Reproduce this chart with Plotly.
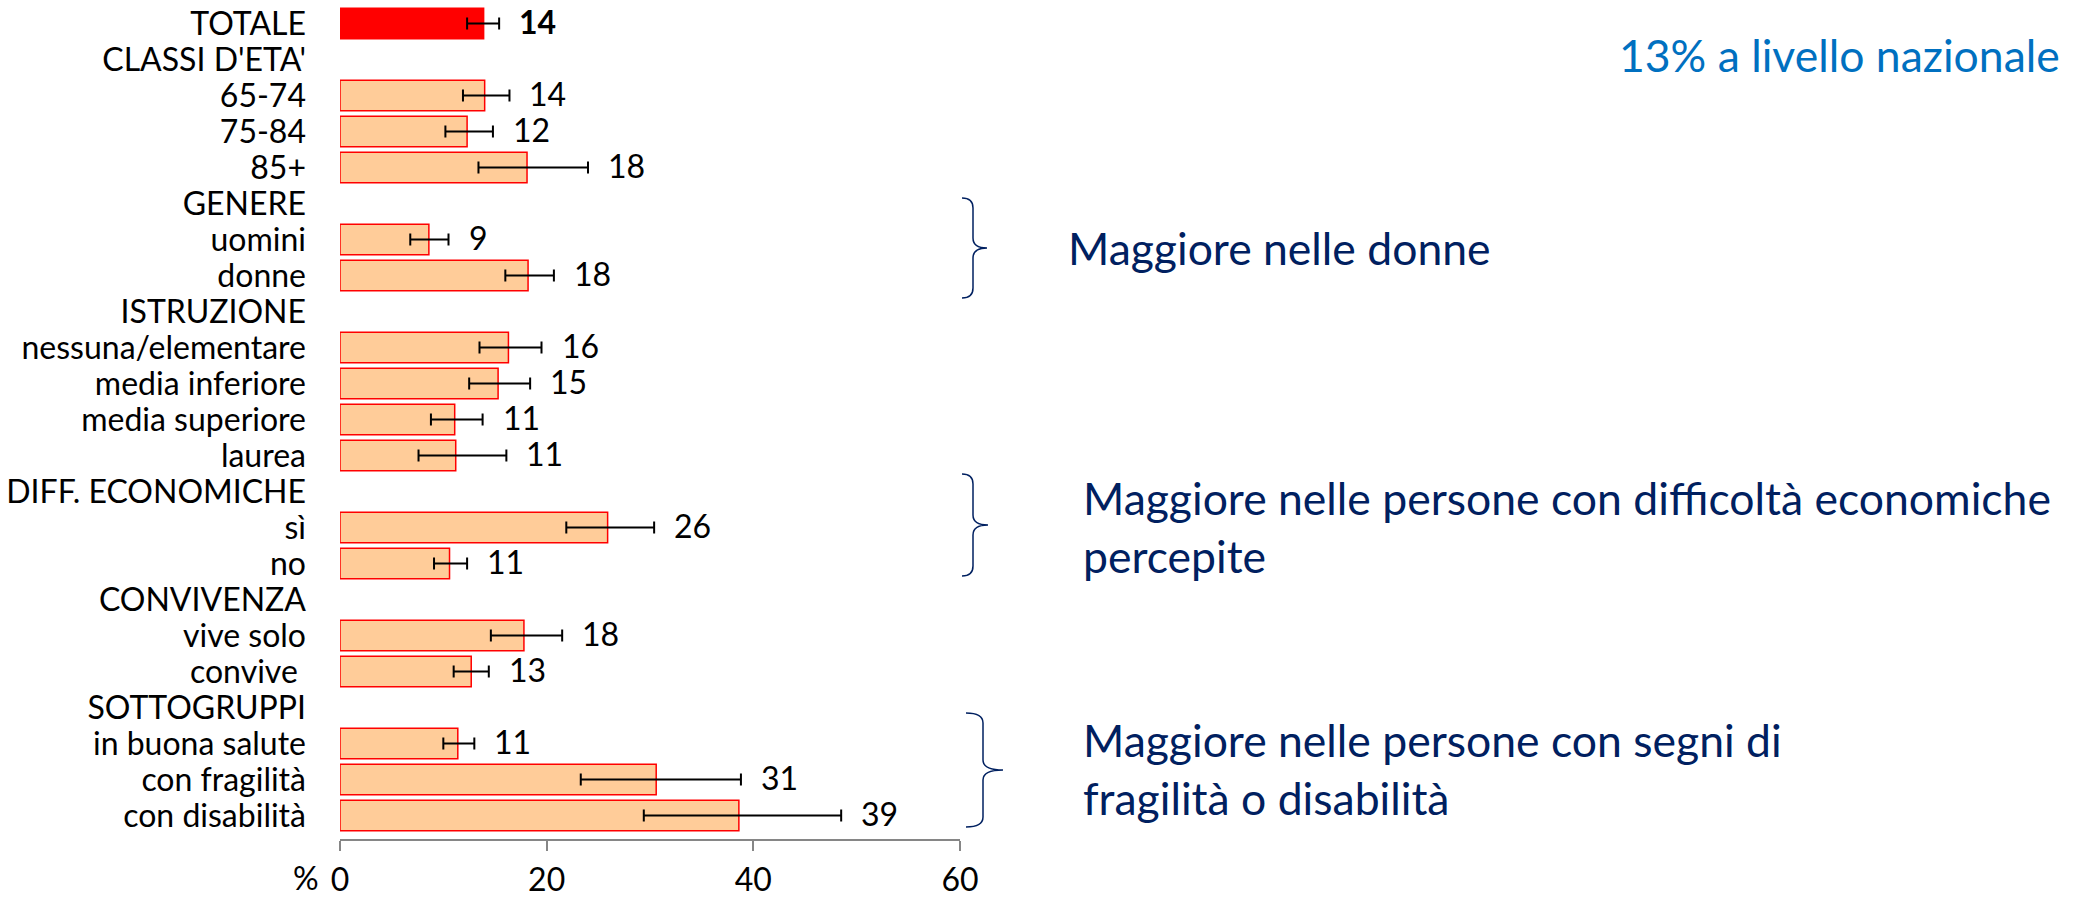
import plotly.graph_objects as go

categories = ["TOTALE", "CLASSI D'ETA'", "65-74", "75-84", "85+", "GENERE", "uomini", "donne",
              "ISTRUZIONE", "nessuna/elementare", "media inferiore", "media superiore", "laurea",
              "DIFF. ECONOMICHE", "sì", "no", "CONVIVENZA", "vive solo", "convive\u00a0",
              "SOTTOGRUPPI", "in buona salute", "con fragilità", "con disabilità"]
values = [13.9, None, 14.0, 12.3, 18.1, None, 8.6, 18.2, None, 16.3, 15.3, 11.1, 11.2,
          None, 25.9, 10.6, None, 17.8, 12.7, None, 11.4, 30.6, 38.6]
ci_low = [12.3, None, 11.9, 10.2, 13.4, None, 6.8, 16.0, None, 13.5, 12.5, 8.8, 7.6,
          None, 21.9, 9.1, None, 14.6, 11.0, None, 10.0, 23.3, 29.4]
ci_high = [15.4, None, 16.4, 14.8, 24.0, None, 10.5, 20.7, None, 19.5, 18.4, 13.8, 16.1,
           None, 30.4, 12.3, None, 21.5, 14.4, None, 13.0, 38.8, 48.5]
labels = ["14", "", "14", "12", "18", "", "9", "18", "", "16", "15", "11", "11",
          "", "26", "11", "", "18", "13", "", "11", "31", "39"]
x_ticks = [0, 20, 40, 60]

notes = [
    ["13% a livello nazionale"],
    ["Maggiore nelle donne"],
    ["Maggiore nelle persone con difficoltà economiche", "percepite"],
    ["Maggiore nelle persone con segni di", "fragilità o disabilità"],
]

FONT = "Lato"
LBL = 32
NOTE = 44.5
W, H = 2082, 897
L, R, T, B = 340, 960, 4, 839


def px_x(px):
    return (px - L) / (R - L)


def px_y(py):
    return (B - py) / (B - T)


fill = ["#FF0000" if i == 0 else "#FFCC99" for i in range(len(categories))]
err_plus = [(h - v) if v is not None else None for v, h in zip(values, ci_high)]
err_minus = [(v - l) if v is not None else None for v, l in zip(values, ci_low)]

fig = go.Figure()
fig.add_trace(go.Bar(
    x=values, y=categories, orientation="h",
    marker=dict(color=fill, line=dict(color="#FF0000", width=1.5)),
    error_x=dict(type="data", symmetric=False, array=err_plus, arrayminus=err_minus,
                 color="#000000", thickness=2, width=6),
    hoverinfo="skip", showlegend=False,
))

annotations = []
for i, (c, h, lab) in enumerate(zip(categories, ci_high, labels)):
    if lab:
        annotations.append(dict(
            x=h, y=c, xref="x", yref="y", text=f"<b>{lab}</b>" if i == 0 else lab,
            showarrow=False, xanchor="left", yanchor="middle", xshift=18, yshift=2,
            font=dict(family=FONT, size=LBL, color="#000000")))

annotations.append(dict(x=px_x(306), y=px_y(877), xref="paper", yref="paper", text="%",
                        showarrow=False, xanchor="center", yanchor="middle",
                        font=dict(family=FONT, size=LBL, color="#000000")))

# right-side notes
note_pos = [
    [(1617, 57)],
    [(1066, 249)],
    [(1081, 499), (1081, 557)],
    [(1081, 741), (1081, 799)],
]
note_colors = ["#0070C0", "#002060", "#002060", "#002060"]
for lines, poss, col in zip(notes, note_pos, note_colors):
    for txt, (px, py) in zip(lines, poss):
        annotations.append(dict(x=px_x(px), y=px_y(py - 2), xref="paper", yref="paper", text=txt,
                                showarrow=False, xanchor="left", yanchor="middle",
                                font=dict(family=FONT, size=NOTE, color=col)))

shapes = []


def brace(x0, xs, xp, yt, ym, yb, r=10):
    pts = [
        f"M {px_x(x0)},{px_y(yt)}",
        f"Q {px_x(xs)},{px_y(yt)} {px_x(xs)},{px_y(yt + r)}",
        f"L {px_x(xs)},{px_y(ym - r)}",
        f"Q {px_x(xs)},{px_y(ym)} {px_x(xp)},{px_y(ym)}",
        f"Q {px_x(xs)},{px_y(ym)} {px_x(xs)},{px_y(ym + r)}",
        f"L {px_x(xs)},{px_y(yb - r)}",
        f"Q {px_x(xs)},{px_y(yb)} {px_x(x0)},{px_y(yb)}",
    ]
    return dict(type="path", xref="paper", yref="paper", path=" ".join(pts),
                line=dict(color="#002060", width=1.5))


shapes.append(brace(962, 973, 987, 198, 248, 298))
shapes.append(brace(962, 973, 988, 474, 525, 576))
shapes.append(brace(966, 983, 1003, 713, 770, 827))

fig.update_layout(
    template="none",
    width=W, height=H,
    margin=dict(l=L, r=W - R, t=T, b=H - B, pad=0, autoexpand=False),
    paper_bgcolor="white", plot_bgcolor="white",
    bargap=0.15,
    font=dict(family=FONT, size=LBL, color="#000000"),
    xaxis=dict(range=[0, 60], tickmode="array", tickvals=x_ticks, ticktext=[str(v) for v in x_ticks],
               automargin=False,
               showgrid=False, zeroline=False, showline=True, linecolor="#868686", linewidth=1.5,
               ticks="outside", ticklen=10, tickcolor="#868686", tickwidth=1.5,
               ticklabelstandoff=2, tickfont=dict(family=FONT, size=LBL, color="#000000")),
    yaxis=dict(categoryorder="array", categoryarray=categories, autorange="reversed",
               tickmode="array", tickvals=categories, ticktext=categories,
               automargin=False,
               showgrid=False, zeroline=False, showline=False, ticks="",
               ticklabelstandoff=33, tickfont=dict(family=FONT, size=LBL, color="#000000")),
    annotations=annotations,
    shapes=shapes,
)

fig.write_html("out.html", config={"displayModeBar": False},
               post_script="document.body.style.margin='0';document.body.style.overflow='hidden';")
